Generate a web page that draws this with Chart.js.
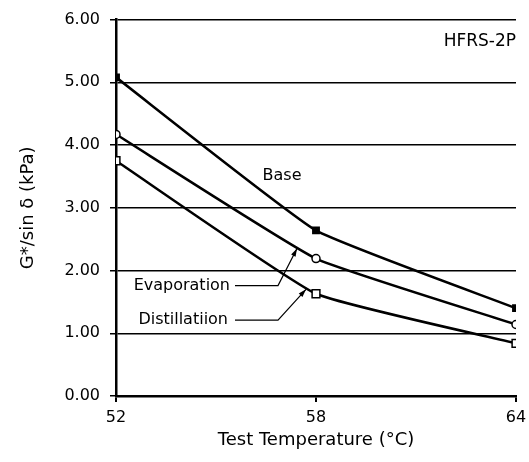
<!doctype html>
<html>

<head>
	<title>G*/sin delta vs Test Temperature</title>
	<script src="https://cdn.jsdelivr.net/npm/chart.js@4/dist/chart.umd.min.js"></script>
	<style>
	body {
		margin: 0;
		background: #fff;
	}
	.chart-container {
		width: 529px;
		height: 462px;
	}
	</style>
</head>

<body>
	<div class="chart-container">
		<canvas id="chart"></canvas>
	</div>
	<script>
		var temps = [52, 58, 64];
		var base = [5.08, 2.64, 1.40];
		var evaporation = [4.17, 2.19, 1.14];
		var distillation = [3.75, 1.63, 0.84];
		var yTicks = [0, 1, 2, 3, 4, 5, 6];

		function toPoints(values) {
			return temps.map(function(t, i) {
				return {x: t, y: values[i]};
			});
		}

		function series(label, values, style, radius, filled) {
			return {
				label: label,
				data: toPoints(values),
				borderColor: '#000',
				borderWidth: 2.5,
				tension: 0.12,
				pointStyle: style,
				pointRadius: radius,
				pointHoverRadius: radius,
				pointBorderWidth: 1.5,
				pointBorderColor: '#000',
				pointBackgroundColor: filled ? '#000' : '#fff',
				fill: false
			};
		}

		// text labels and leader arrows drawn on top of the data
		var notes = {
			id: 'notes',
			afterDatasetsDraw: function(chart) {
				var ctx = chart.ctx;
				var x = chart.scales.x;
				var y = chart.scales.y;
				function px(v) { return x.getPixelForValue(v); }
				function py(v) { return y.getPixelForValue(v); }

				function leader(pts) {
					ctx.beginPath();
					ctx.moveTo(px(pts[0][0]), py(pts[0][1]));
					for (var i = 1; i < pts.length; i++) {
						ctx.lineTo(px(pts[i][0]), py(pts[i][1]));
					}
					ctx.stroke();
					var a = pts[pts.length - 2], b = pts[pts.length - 1];
					var x1 = px(a[0]), y1 = py(a[1]), x2 = px(b[0]), y2 = py(b[1]);
					var ang = Math.atan2(y2 - y1, x2 - x1);
					ctx.beginPath();
					ctx.moveTo(x2, y2);
					ctx.lineTo(x2 - 8 * Math.cos(ang) + 2.5 * Math.sin(ang), y2 - 8 * Math.sin(ang) - 2.5 * Math.cos(ang));
					ctx.lineTo(x2 - 8 * Math.cos(ang) - 2.5 * Math.sin(ang), y2 - 8 * Math.sin(ang) + 2.5 * Math.cos(ang));
					ctx.closePath();
					ctx.fill();
				}

				ctx.save();
				ctx.fillStyle = '#000';
				ctx.strokeStyle = '#000';
				ctx.lineWidth = 1.2;
				ctx.textBaseline = 'middle';

				ctx.font = '17px "DejaVu Sans"';
				ctx.textAlign = 'right';
				ctx.fillText('HFRS-2P', px(64), py(5.65));

				ctx.font = '16px "DejaVu Sans"';
				ctx.textAlign = 'center';
				ctx.fillText('Base', px(56.98), py(3.51));

				ctx.textAlign = 'right';
				ctx.fillText('Evaporation', px(55.42), py(1.76));
				ctx.fillText('Distillatiion', px(55.36), py(1.21));

				leader([[55.57, 1.76], [56.86, 1.76], [57.43, 2.35]]);
				leader([[55.57, 1.21], [56.86, 1.21], [57.7, 1.70]]);
				ctx.restore();
			}
		};

		window.onload = function() {
			var ctx = document.getElementById('chart').getContext('2d');
			new Chart(ctx, {
				type: 'line',
				data: {
					datasets: [
						series('Base', base, 'rect', 4.5, true),
						series('Evaporation', evaporation, 'circle', 4, false),
						series('Distillation', distillation, 'rect', 5.5, false)
					]
				},
				options: {
					responsive: true,
					maintainAspectRatio: false,
					animation: false,
					layout: {
						padding: {top: 18, right: 13, left: 0, bottom: 0}
					},
					plugins: {
						legend: {display: false},
						tooltip: {enabled: false}
					},
					scales: {
						x: {
							type: 'linear',
							min: temps[0],
							max: temps[temps.length - 1],
							afterFit: function(scale) {
								scale.height = 66;
								scale.paddingLeft = 0;
								scale.paddingRight = 0;
							},
							afterBuildTicks: function(scale) {
								scale.ticks = temps.map(function(t) { return {value: t}; });
							},
							grid: {
								drawOnChartArea: false,
								drawTicks: true,
								tickLength: 6,
								color: '#000',
								lineWidth: 2
							},
							border: {color: '#000', width: 2.5},
							ticks: {
								color: '#000',
								padding: 6,
								maxRotation: 0,
								font: {family: 'DejaVu Sans', size: 16}
							},
							title: {
								display: true,
								text: 'Test Temperature (°C)',
								color: '#000',
								padding: {top: 0, bottom: 11},
								font: {family: 'DejaVu Sans', size: 18}
							}
						},
						y: {
							min: yTicks[0],
							max: yTicks[yTicks.length - 1],
							afterFit: function(scale) { scale.width = 116; },
							afterBuildTicks: function(scale) {
								scale.ticks = yTicks.map(function(v) { return {value: v}; });
							},
							grid: {
								color: '#000',
								lineWidth: 1.5,
								drawTicks: true,
								tickLength: 6
							},
							border: {color: '#000', width: 2.5},
							ticks: {
								color: '#000',
								padding: 10,
								font: {family: 'DejaVu Sans', size: 16},
								callback: function(v) { return v.toFixed(2); }
							},
							title: {
								display: true,
								text: 'G*/sin δ (kPa)',
								color: '#000',
								padding: {top: 18, bottom: 0},
								font: {family: 'DejaVu Sans', size: 18}
							}
						}
					}
				},
				plugins: [notes]
			});
		};
	</script>
</body>

</html>
